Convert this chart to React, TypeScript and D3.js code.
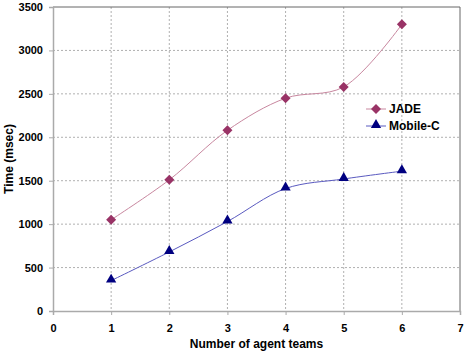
import React, { useEffect, useRef } from "react";
import * as d3 from "d3";

const teams = [1, 2, 3, 4, 5, 6];
const jade = [1050, 1510, 2080, 2450, 2580, 3300];
const mobileC = [350, 680, 1030, 1410, 1520, 1610];
const xTicks = [0, 1, 2, 3, 4, 5, 6, 7];
const yTicks = [0, 500, 1000, 1500, 2000, 2500, 3000, 3500];

const App = () => {
  const ref = useRef<SVGSVGElement>(null);

  useEffect(() => {
    document.body.style.margin = "0";
    const width = 465, height = 354;
    const m = { left: 53, right: 5, top: 7, bottom: 43 };
    const svg = d3.select(ref.current).attr("width", width).attr("height", height);
    svg.selectAll("*").remove();
    const font = "'Liberation Sans', Arial, sans-serif";

    const x = d3.scaleLinear().domain([0, 7]).range([m.left, width - m.right]);
    const y = d3.scaleLinear().domain([0, 3500]).range([height - m.bottom, m.top]);

    svg.append("rect").attr("width", width).attr("height", height).attr("fill", "#fff");

    // grid
    svg.selectAll(".vg").data(xTicks.slice(1, -1)).enter().append("line")
      .attr("x1", (d) => x(d)).attr("x2", (d) => x(d))
      .attr("y1", y(3500)).attr("y2", y(0))
      .attr("stroke", "#b0b0b0").attr("stroke-dasharray", "2,2");
    svg.selectAll(".hg").data(yTicks.slice(1, -1)).enter().append("line")
      .attr("x1", x(0)).attr("x2", x(7))
      .attr("y1", (d) => y(d)).attr("y2", (d) => y(d))
      .attr("stroke", "#b0b0b0").attr("stroke-dasharray", "2,2");

    // frame
    svg.append("line").attr("x1", x(0)).attr("x2", x(7)).attr("y1", y(3500)).attr("y2", y(3500)).attr("stroke", "#666");
    svg.append("line").attr("x1", x(7)).attr("x2", x(7)).attr("y1", y(3500)).attr("y2", y(0)).attr("stroke", "#666");

    const xAxis = svg.append("g").attr("transform", `translate(0,${y(0)})`)
      .call(d3.axisBottom(x).tickValues(xTicks).tickSize(4).tickPadding(9).tickFormat(d3.format("d")));
    const yAxis = svg.append("g").attr("transform", `translate(${x(0)},0)`)
      .call(d3.axisLeft(y).tickValues(yTicks).tickSize(4).tickPadding(6).tickFormat(d3.format("d")));
    [xAxis, yAxis].forEach((a) => {
      a.select(".domain").attr("stroke", "#aaa").attr("stroke-width", 1.5);
      a.selectAll(".tick line").attr("stroke", "#aaa");
      a.selectAll("text").attr("font-family", font).attr("font-weight", "bold")
        .attr("font-size", 11).attr("fill", "#000");
    });

    const line = d3.line<number>()
      .x((_, i) => x(teams[i]))
      .y((d) => y(d))
      .curve(d3.curveCatmullRom.alpha(0.5));

    const diamond = d3.symbol().type(d3.symbolSquare).size(50);
    const triangle = d3.symbol().type(d3.symbolTriangle).size(46);

    svg.append("path").datum(jade).attr("d", line).attr("fill", "none")
      .attr("stroke", "#c8879f").attr("stroke-width", 1);
    svg.append("path").datum(mobileC).attr("d", line).attr("fill", "none")
      .attr("stroke", "#5a5ac0").attr("stroke-width", 1);

    svg.selectAll(".jm").data(jade).enter().append("path")
      .attr("d", diamond).attr("fill", "#993366")
      .attr("transform", (d, i) => `translate(${x(teams[i])},${y(d)}) rotate(45)`);
    svg.selectAll(".mm").data(mobileC).enter().append("path")
      .attr("d", triangle).attr("fill", "#000080")
      .attr("transform", (d, i) => `translate(${x(teams[i])},${y(d) - 1})`);

    // legend
    const lg = svg.append("g").attr("transform", "translate(366,0)");
    lg.append("line").attr("x1", 0).attr("x2", 20).attr("y1", 109).attr("y2", 109).attr("stroke", "#c8879f");
    lg.append("path").attr("d", diamond).attr("fill", "#993366").attr("transform", "translate(10,109) rotate(45)");
    lg.append("text").attr("x", 23).attr("y", 113).text("JADE");
    lg.append("line").attr("x1", 0).attr("x2", 20).attr("y1", 126).attr("y2", 126).attr("stroke", "#5a5ac0");
    lg.append("path").attr("d", triangle).attr("fill", "#000080").attr("transform", "translate(10,125)");
    lg.append("text").attr("x", 23).attr("y", 130).text("Mobile-C");
    lg.selectAll("text").attr("font-family", font).attr("font-weight", "bold").attr("font-size", 12);

    // titles
    svg.append("text").attr("x", (x(0) + x(7)) / 2).attr("y", 348).attr("text-anchor", "middle")
      .attr("font-family", font).attr("font-weight", "bold").attr("font-size", 12).text("Number of agent teams");
    svg.append("text").attr("transform", `translate(13,${(y(0) + y(3500)) / 2}) rotate(-90)`)
      .attr("text-anchor", "middle")
      .attr("font-family", font).attr("font-weight", "bold").attr("font-size", 12).text("Time (msec)");
  }, []);

  return <svg ref={ref} style={{ display: "block" }}></svg>;
};

export default App;
